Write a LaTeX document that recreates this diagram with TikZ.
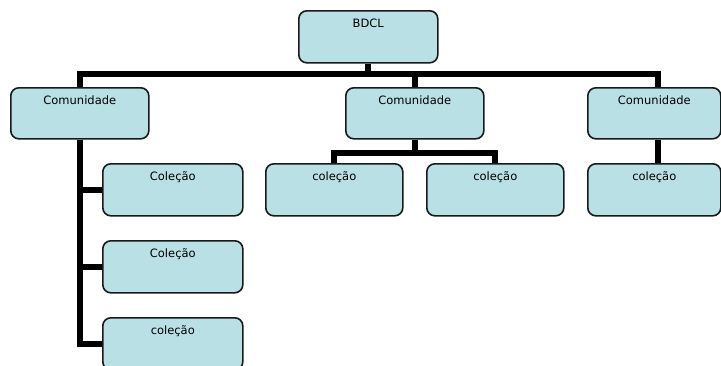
\documentclass[tikz,border=0pt]{standalone}
\usepackage{fontspec}
\setmainfont{DejaVu Sans}
\usetikzlibrary{backgrounds}
\definecolor{boxfill}{RGB}{185,224,228}
\definecolor{boxline}{RGB}{25,25,25}
\begin{document}
\begin{tikzpicture}[x=1pt,y=-1pt,
  box/.style={draw=boxline, fill=boxfill, line width=1.6pt, rounded corners=8pt,
    anchor=north west, inner sep=0pt, minimum height=52pt},
  txt/.style={anchor=base, yshift=-17.5pt, inner sep=0pt, font=\fontsize{11.5}{13}\selectfont, text=black},
  conn/.style={draw=black, line width=6pt, line join=miter}]
\useasboundingbox (0,0) rectangle (721,365);
\node[box, minimum width=139pt, label={[txt]north:BDCL}] (bdcl) at (298,10) {};
\node[box, minimum width=138pt, minimum height=51pt, label={[txt]north:Comunidade}] (c1) at (10,87) {};
\node[box, minimum width=138pt, minimum height=51pt, label={[txt]north:Comunidade}] (c2) at (345,87) {};
\node[box, minimum width=133pt, minimum height=51pt, label={[txt]north:Comunidade}] (c3) at (587,87) {};
\node[box, minimum width=140pt, label={[txt]north:Coleção}] (k1) at (102,163) {};
\node[box, minimum width=140pt, label={[txt]north:Coleção}] (k2) at (102,240) {};
\node[box, minimum width=140pt, label={[txt]north:coleção}] (k3) at (102,317) {};
\node[box, minimum width=137pt, label={[txt]north:coleção}] (m1) at (265,163) {};
\node[box, minimum width=137pt, label={[txt]north:coleção}] (m2) at (426,163) {};
\node[box, minimum width=133pt, label={[txt]north:coleção}] (r1) at (587,163) {};
\coordinate (c3top) at ([xshift=3.5pt]c3.north);
\coordinate (c3bot) at ([xshift=3.5pt]c3.south);
\begin{scope}[on background layer]
% top bus
\draw[conn] (c1.north) -- ++(0,-13) coordinate (busL) -| (c3top);
\draw[conn] (bdcl.south) -- (bdcl.south |- busL);
\draw[conn] (c2.north |- busL) -- (c2.north);
% left column
\draw[conn] (c1.south) |- (k3.west);
\draw[conn] (k1.west) -- (k1.west -| c1.south);
\draw[conn] (k2.west) -- (k2.west -| c1.south);
% middle
\draw[conn] (c2.south) -- ++(0,13) coordinate (midbus);
\draw[conn] (m1.north) |- (midbus) -| (m2.north);
% right
\draw[conn] (c3bot) -- (r1.north -| c3bot);
\end{scope}
\end{tikzpicture}
\end{document}
